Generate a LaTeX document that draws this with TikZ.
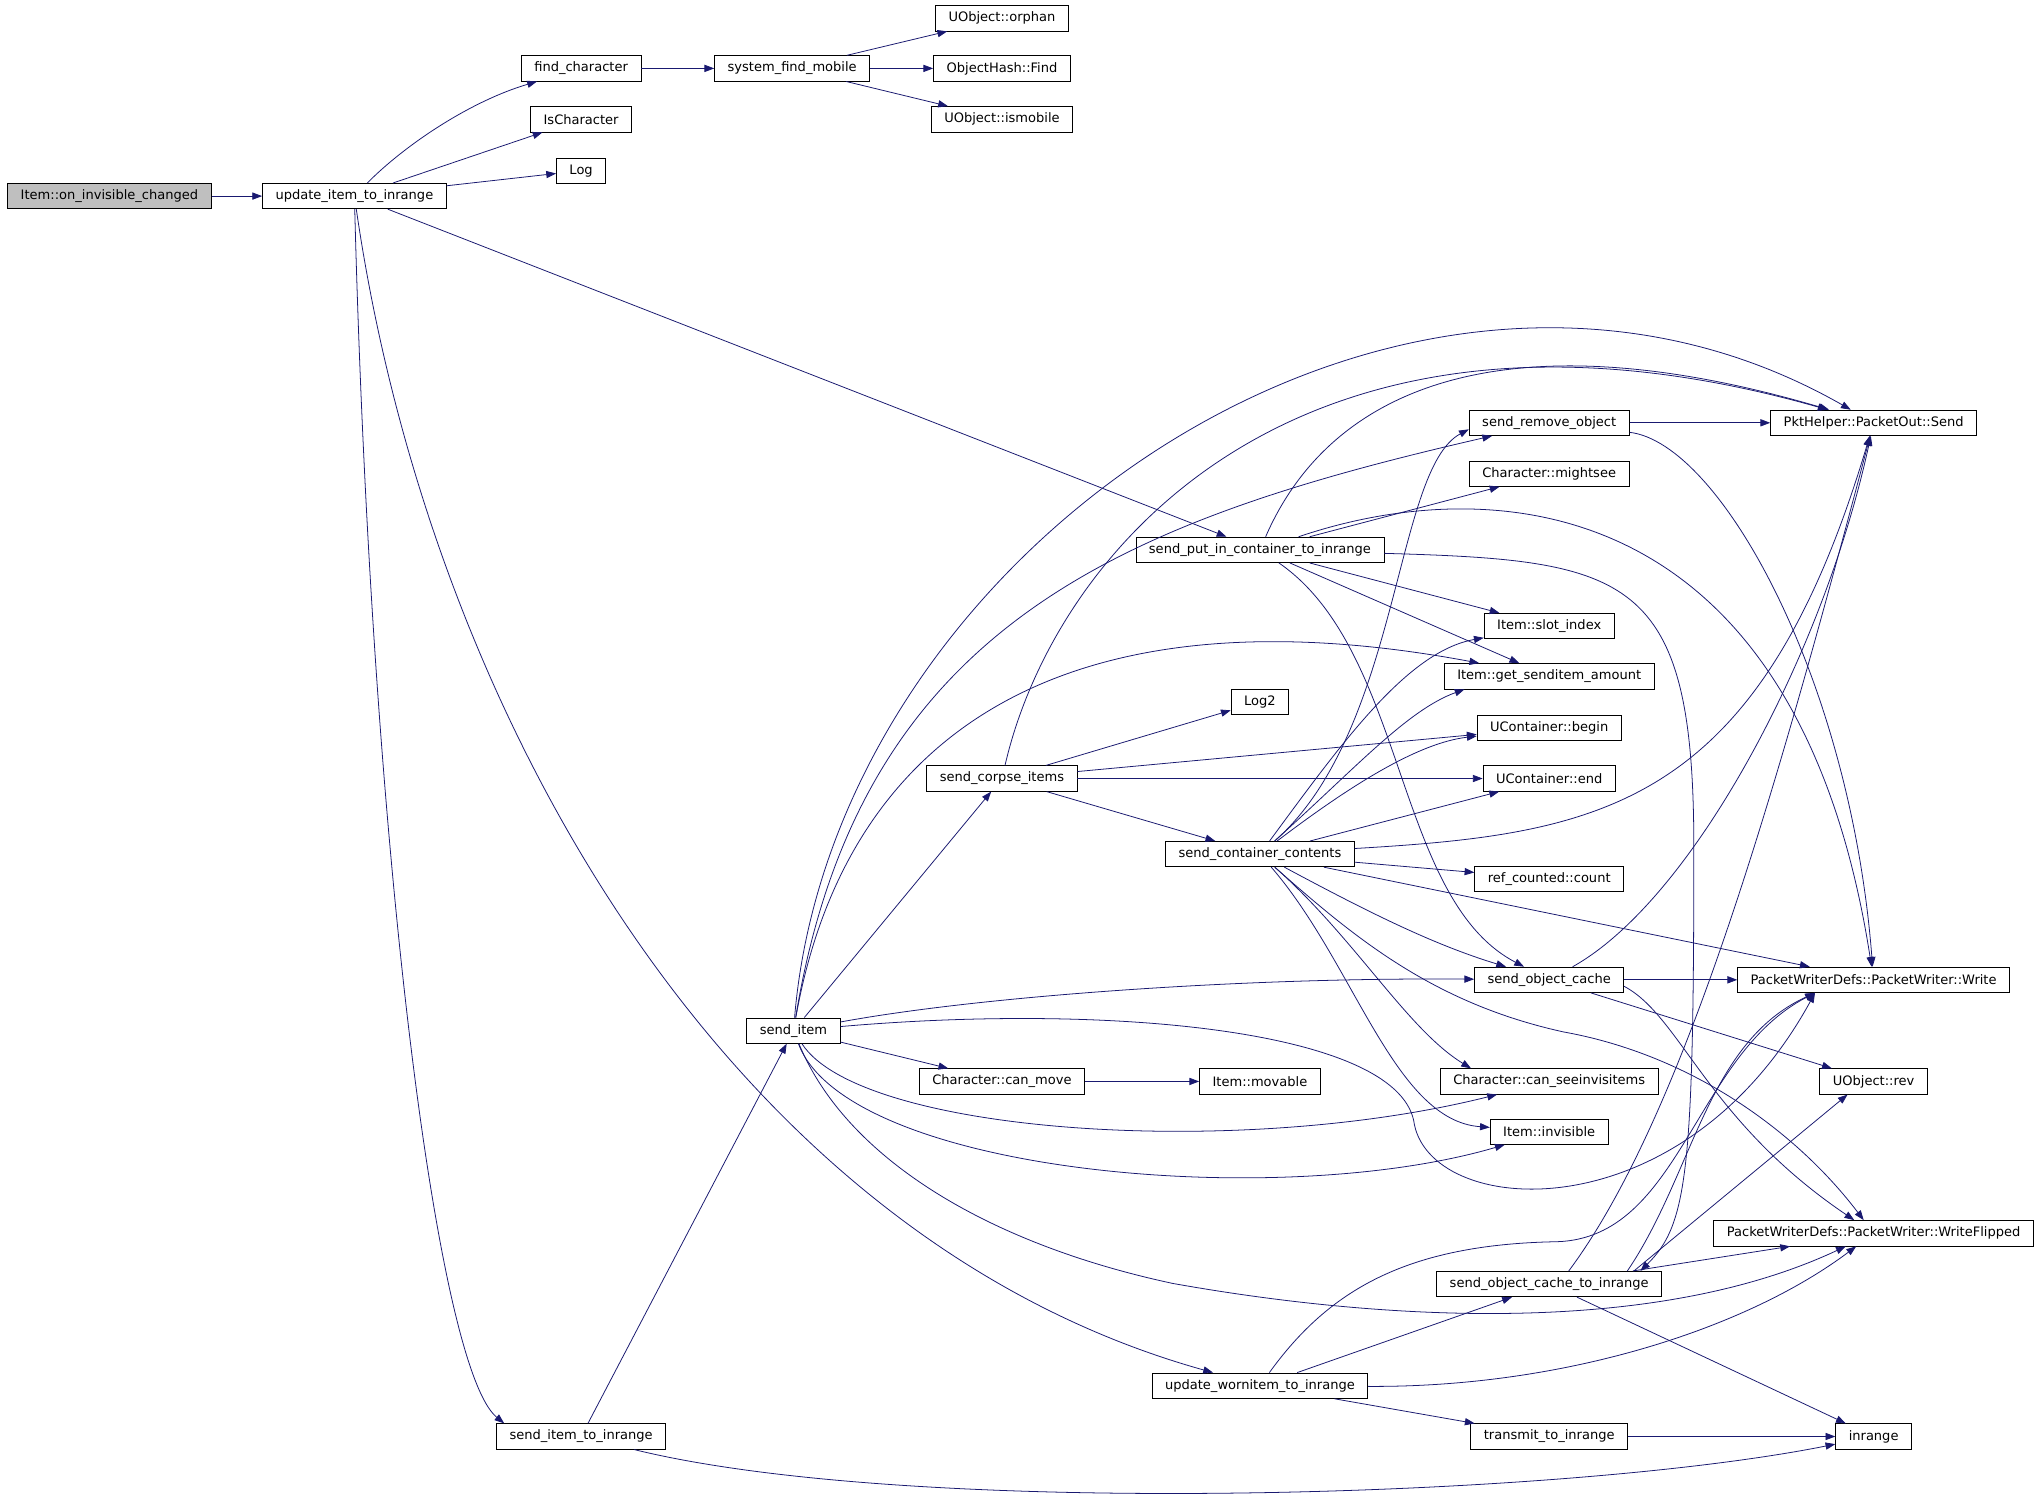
\documentclass[tikz,border=0pt]{standalone}
\usepackage{fontspec}
\setmainfont{DejaVu Sans}
\usepackage{tikz}
\usetikzlibrary{arrows.meta}
\definecolor{callblue}{RGB}{25,25,112}
\definecolor{rootgray}{RGB}{191,191,191}

\begin{document}
\begin{tikzpicture}[x=1pt, y=-1pt,
    fn/.style={draw=black, line width=0.6pt, rectangle, minimum height=19.5pt,
      inner xsep=10pt, inner ysep=0pt, font=\fontsize{10}{12}\selectfont},
    call/.style={draw=callblue, line width=0.6pt, -{Triangle[length=7.5pt,width=5.5pt]}}]
    \fill[white] (0,0) rectangle (1568,1146);
    \useasboundingbox (0,0) rectangle (1568,1146);
    % functions
    \node[fn, fill=rootgray] (root) at (84,150.5) {Item::on\_invisible\_changed};
    \node[fn] (uiti) at (272,150.5) {update\_item\_to\_inrange};
    \node[fn] (fch) at (446,52.5) {find\_character};
    \node[fn] (isch) at (446,91.5) {IsCharacter};
    \node[fn] (lg) at (446,131) {Log};
    \node[fn] (siti) at (446,1102.5) {send\_item\_to\_inrange};
    \node[fn] (sfm) at (608,52.5) {system\_find\_mobile};
    \node[fn] (si) at (609,791) {send\_item};
    \node[fn] (orph) at (769,14) {UObject::orphan};
    \node[fn] (ohf) at (769,52.5) {ObjectHash::Find};
    \node[fn] (ismob) at (769,91.5) {UObject::ismobile};
    \node[fn] (sci) at (769,597.5) {send\_corpse\_items};
    \node[fn] (ccm) at (769,830) {Character::can\_move};
    \node[fn] (spic) at (967,422) {send\_put\_in\_container\_to\_inrange};
    \node[fn] (lg2) at (967,538.5) {Log2};
    \node[fn] (scc) at (967,655.5) {send\_container\_contents};
    \node[fn] (imov) at (967,830) {Item::movable};
    \node[fn] (uwi) at (967,1063.5) {update\_wornitem\_to\_inrange};
    \node[fn] (sro) at (1189,324.5) {send\_remove\_object};
    \node[fn] (msee) at (1189,363.5) {Character::mightsee};
    \node[fn] (slot) at (1189,480.5) {Item::slot\_index};
    \node[fn] (gsa) at (1189,519) {Item::get\_senditem\_amount};
    \node[fn] (ucb) at (1189,558.5) {UContainer::begin};
    \node[fn] (uce) at (1189,597.5) {UContainer::end};
    \node[fn] (rcc) at (1189,674.5) {ref\_counted::count};
    \node[fn] (soc) at (1189,752) {send\_object\_cache};
    \node[fn] (csi) at (1189,830) {Character::can\_seeinvisitems};
    \node[fn] (iinv) at (1189,868.5) {Item::invisible};
    \node[fn] (socti) at (1189,985.5) {send\_object\_cache\_to\_inrange};
    \node[fn] (tti) at (1189,1102.5) {transmit\_to\_inrange};
    \node[fn] (pks) at (1438,324.5) {PktHelper::PacketOut::Send};
    \node[fn] (pww) at (1438,752) {PacketWriterDefs::PacketWriter::Write};
    \node[fn] (urev) at (1438,830) {UObject::rev};
    \node[fn] (pwf) at (1438,946.5) {PacketWriterDefs::PacketWriter::WriteFlipped};
    \node[fn] (inr) at (1438,1102.5) {inrange};
    %
    % calls
    \draw[call] (root) -- (uiti);
    \draw[call] (uiti) .. controls (310,112) and (360,78) .. (fch);
    \draw[call] (uiti) -- (isch);
    \draw[call] (uiti) -- (lg);
    \draw[call] (uiti) -- (spic);
    \draw[call] (uiti) .. controls (285,650) and (335,1050) .. ([xshift=-59pt]siti.north);
    \draw[call] (uiti) .. controls (330,550) and (560,950) .. (uwi);
    \draw[call] (fch) -- (sfm);
    \draw[call] (sfm) -- (orph);
    \draw[call] (sfm) -- (ohf);
    \draw[call] (sfm) -- (ismob);
    \draw[call] (siti) -- (si);
    \draw[call] (siti) .. controls (700,1165) and (1200,1150) .. (inr);
    %
    \draw[call] (si) -- (sci);
    \draw[call] (si) .. controls (640,420) and (1080,120) .. (pks);
    \draw[call] (si) .. controls (660,480) and (860,400) .. (sro);
    \draw[call] (si) .. controls (650,560) and (820,450) .. (gsa);
    \draw[call] (si) .. controls (750,765) and (950,750) .. (soc);
    \draw[call] (si) .. controls (850,770) and (1070,790) .. (1085,860)
      .. controls (1095,935) and (1290,950) .. ([xshift=-45pt]pww.south);
    \draw[call] (si) -- (ccm);
    \draw[call] (si) .. controls (660,870) and (950,890) .. (csi);
    \draw[call] (si) .. controls (650,900) and (980,930) .. (iinv);
    \draw[call] (si) .. controls (650,890) and (760,955) .. (900,985)
      .. controls (1040,1010) and (1260,1030) .. (pwf);
    %
    \draw[call] (sci) -- (lg2);
    \draw[call] (sci) -- (ucb);
    \draw[call] (sci) -- (uce);
    \draw[call] (sci) -- (scc);
    \draw[call] (sci) .. controls (810,420) and (1000,200) .. (pks);
    \draw[call] (ccm) -- (imov);
    %
    \draw[call] (spic) .. controls (1020,300) and (1150,240) .. (pks);
    \draw[call] (spic) -- (msee);
    \draw[call] (spic) .. controls (1150,360) and (1380,380) .. (pww);
    \draw[call] (spic) -- (slot);
    \draw[call] (spic) -- (gsa);
    \draw[call] (spic) .. controls (1080,500) and (1070,690) .. (soc);
    \draw[call] (spic) .. controls (1250,430) and (1300,440) .. (1300,650)
      .. controls (1300,900) and (1295,940) .. ([xshift=70pt]socti.north);
    %
    \draw[call] (scc) .. controls (1075,560) and (1070,360) .. ([yshift=-5pt]sro.west);
    \draw[call] (scc) .. controls (1030,570) and (1080,500) .. (slot);
    \draw[call] (scc) .. controls (1040,590) and (1080,545) .. ([xshift=-65pt]gsa.south);
    \draw[call] (scc) .. controls (1040,600) and (1090,570) .. (ucb);
    \draw[call] (scc) -- (uce);
    \draw[call] (scc) .. controls (1230,640) and (1350,620) .. (pks);
    \draw[call] (scc) -- (rcc);
    \draw[call] (scc) -- (pww);
    \draw[call] (scc) .. controls (1050,700) and (1100,725) .. (soc);
    \draw[call] (scc) .. controls (1040,720) and (1080,790) .. ([xshift=-60pt]csi.north);
    \draw[call] (scc) .. controls (1040,740) and (1070,860) .. (iinv);
    \draw[call] (scc) .. controls (1040,720) and (1100,770) .. (1200,792)
      .. controls (1300,810) and (1380,870) .. (pwf);
    %
    \draw[call] (sro) -- (pks);
    \draw[call] (sro) .. controls (1320,340) and (1420,520) .. (pww);
    \draw[call] (soc) .. controls (1300,690) and (1400,500) .. (pks);
    \draw[call] (soc) -- (pww);
    \draw[call] (soc) -- (urev);
    \draw[call] ([yshift=-5pt]soc.east) .. controls (1290,780) and (1310,860) .. (pwf);
    %
    \draw[call] ([xshift=15pt]socti.north) .. controls (1290,860) and (1360,620) .. (pks);
    \draw[call] ([xshift=60pt]socti.north) .. controls (1300,900) and (1310,800) .. ([xshift=-45pt]pww.south);
    \draw[call] (socti) -- (pwf);
    \draw[call] ([xshift=65pt]socti.north) -- ([xshift=-20pt]urev.south);
    \draw[call] (socti) -- (inr);
    \draw[call] (uwi) -- (socti);
    \draw[call] (uwi) -- (tti);
    \draw[call] (uwi) .. controls (1200,1065) and (1340,1020) .. (pwf);
    \draw[call] (uwi) .. controls (1020,990) and (1080,955) .. (1195,953)
      .. controls (1290,950) and (1300,810) .. ([xshift=-45pt]pww.south);
    \draw[call] (tti) -- (inr);
    %
\end{tikzpicture}
\end{document}
